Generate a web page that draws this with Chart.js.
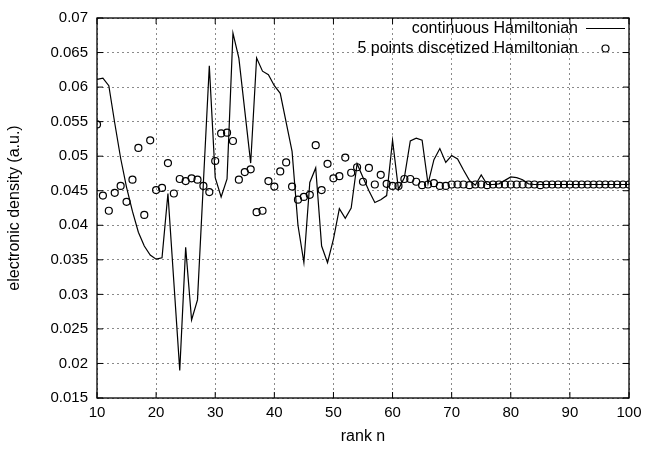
<!DOCTYPE html>
<html><head><meta charset="utf-8">
<script src="https://cdn.jsdelivr.net/npm/chart.js@4/dist/chart.umd.min.js"></script>
<style>html,body{margin:0;padding:0;background:#fff}#wrap{width:658px;height:451px;position:relative}</style>
</head><body><div id="wrap"><canvas id="c" width="658" height="451"></canvas></div>
<script>
// ---- data ----
const ranks = [10,11,12,13,14,15,16,17,18,19,20,21,22,23,24,25,26,27,28,29,30,31,32,33,34,35,36,37,38,39,40,41,42,43,44,45,46,47,48,49,50,51,52,53,54,55,56,57,58,59,60,61,62,63,64,65,66,67,68,69,70,71,72,73,74,75,76,77,78,79,80,81,82,83,84,85,86,87,88,89,90,91,92,93,94,95,96,97,98,99,100];
const continuousValues = [
0.0611,0.0613,0.0602,0.0548,0.0497,0.0455,0.0420,0.0390,0.0370,0.0357,
0.0351,0.0353,0.0446,0.0318,0.0190,0.0368,0.0263,0.0292,0.0462,0.0631,
0.0469,0.0441,0.0467,0.0678,0.0642,0.0566,0.0490,0.0642,0.0623,0.0618,
0.0602,0.0591,0.0549,0.0507,0.0400,0.0346,0.0462,0.0483,0.0370,0.0346,
0.0380,0.0424,0.0410,0.0425,0.0489,0.0469,0.0450,0.0433,0.0437,0.0443,
0.0523,0.0452,0.0469,0.0522,0.0526,0.0523,0.0460,0.0495,0.0511,0.0491,
0.0501,0.0496,0.0480,0.0465,0.0458,0.0473,0.0459,0.0459,0.0460,0.0465,
0.0470,0.0469,0.0466,0.0460,0.0459,0.0459,0.0459,0.0459,0.0459,0.0459,
0.0459,0.0459,0.0459,0.0459,0.0459,0.0459,0.0459,0.0459,0.0459,0.0459,
0.0459];
const discreteValues = [
0.0546,0.0443,0.0421,0.0447,0.0457,0.0434,0.0466,0.0512,0.0415,0.0523,
0.0451,0.0454,0.0490,0.0446,0.0467,0.0464,0.0468,0.0466,0.0457,0.0448,
0.0493,0.0533,0.0534,0.0522,0.0466,0.0477,0.0481,0.0419,0.0421,0.0464,
0.0456,0.0478,0.0491,0.0456,0.0437,0.0441,0.0444,0.0516,0.0451,0.0489,
0.0468,0.0471,0.0498,0.0476,0.0484,0.0463,0.0483,0.0459,0.0473,0.0460,
0.0457,0.0457,0.0467,0.0467,0.0463,0.0458,0.0459,0.0461,0.0457,0.0457,
0.0459,0.0459,0.0459,0.0458,0.0459,0.0459,0.0458,0.0459,0.0459,0.0459,
0.0459,0.0459,0.0459,0.0459,0.0459,0.0458,0.0459,0.0459,0.0459,0.0459,
0.0459,0.0459,0.0459,0.0459,0.0459,0.0459,0.0459,0.0459,0.0459,0.0459,
0.0459];
const xTickValues = [10,20,30,40,50,60,70,80,90,100];
const yTickValues = [0.015,0.02,0.025,0.03,0.035,0.04,0.045,0.05,0.055,0.06,0.065,0.07];
const lineLabel = 'continuous Hamiltonian';
const pointLabel = '5 points discetized Hamiltonian';
const xTitle = 'rank n';
const yTitle = 'electronic density (a.u.)';

// ---- chart ----
const FAMILY = '"Liberation Sans", Arial, Helvetica, sans-serif';
const FONT = {family: FAMILY, size: 15};
const TITLE_FONT = {family: FAMILY, size: 16};
const KEY_FONT = {family: FAMILY, size: 16};

const framePlugin = {
  id: 'frame',
  afterDraw(chart) {
    const {ctx, chartArea: a, scales} = chart;
    ctx.save();
    ctx.strokeStyle = '#000';
    ctx.lineWidth = 1.3;
    ctx.strokeRect(a.left, a.top, a.right - a.left, a.bottom - a.top);
    ctx.lineWidth = 1;
    const L = 6;
    ctx.beginPath();
    xTickValues.forEach(v => {
      const x = scales.x.getPixelForValue(v);
      ctx.moveTo(x, a.bottom); ctx.lineTo(x, a.bottom - L);
      ctx.moveTo(x, a.top); ctx.lineTo(x, a.top + L);
    });
    yTickValues.forEach(v => {
      const y = scales.y.getPixelForValue(v);
      ctx.moveTo(a.left, y); ctx.lineTo(a.left + L, y);
      ctx.moveTo(a.right, y); ctx.lineTo(a.right - L, y);
    });
    ctx.stroke();

    // key, gnuplot style: text then sample
    ctx.font = KEY_FONT.size + 'px ' + KEY_FONT.family;
    ctx.fillStyle = '#000';
    ctx.textAlign = 'right';
    ctx.textBaseline = 'middle';
    const tx = a.right - 51, y1 = a.top + 10.5, y2 = a.top + 30.5;
    ctx.fillText(lineLabel, tx, y1);
    ctx.fillText(pointLabel, tx, y2);
    ctx.lineWidth = 1.2;
    ctx.beginPath();
    ctx.moveTo(tx + 8, y1); ctx.lineTo(a.right - 4, y1);
    ctx.stroke();
    ctx.beginPath();
    ctx.arc((tx + 8 + a.right - 4) / 2, y2, 3.5, 0, Math.PI * 2);
    ctx.stroke();
    ctx.restore();
  }
};

new Chart(document.getElementById('c'), {
  type: 'line',
  data: {
    datasets: [
      {
        label: lineLabel,
        data: ranks.map((r, i) => ({x: r, y: continuousValues[i]})),
        borderColor: '#000',
        borderWidth: 1.2,
        pointRadius: 0,
        tension: 0,
        fill: false,
        order: 2
      },
      {
        label: pointLabel,
        data: ranks.map((r, i) => ({x: r, y: discreteValues[i]})),
        showLine: false,
        pointStyle: 'circle',
        pointRadius: 3.5,
        pointBorderWidth: 1.2,
        pointBorderColor: '#000',
        pointBackgroundColor: 'rgba(0,0,0,0)',
        borderColor: '#000',
        order: 1
      }
    ]
  },
  options: {
    responsive: false,
    devicePixelRatio: 1,
    animation: false,
    layout: {padding: {left: 0, right: 29, top: 11, bottom: 0}},
    plugins: {legend: {display: false}, tooltip: {enabled: false}},
    scales: {
      x: {
        type: 'linear',
        min: 10, max: 100,
        afterBuildTicks: s => { s.ticks = xTickValues.map(v => ({value: v})); },
        afterFit: s => { s.height = 53; },
        ticks: {font: FONT, color: '#000', padding: 6, maxRotation: 0, autoSkip: false,
                callback: v => String(v)},
        grid: {color: '#8a8a8a', lineWidth: 1, drawTicks: false},
        border: {display: false, dash: [2, 3]},
        title: {display: true, text: xTitle, font: TITLE_FONT, color: '#000', padding: {top: 0, bottom: 5}}
      },
      y: {
        type: 'linear',
        min: 0.015, max: 0.07,
        afterBuildTicks: s => { s.ticks = yTickValues.map(v => ({value: v})); },
        afterFit: s => { s.width = 97; },
        ticks: {font: FONT, color: '#000', padding: 9, autoSkip: false,
                callback: v => String(parseFloat(Number(v).toFixed(3)))},
        grid: {color: '#8a8a8a', lineWidth: 1, drawTicks: false},
        border: {display: false, dash: [2, 3]},
        title: {display: true, text: yTitle, font: TITLE_FONT, color: '#000', padding: {top: 5, bottom: 4}}
      }
    }
  },
  plugins: [framePlugin]
});
</script>
</body></html>
